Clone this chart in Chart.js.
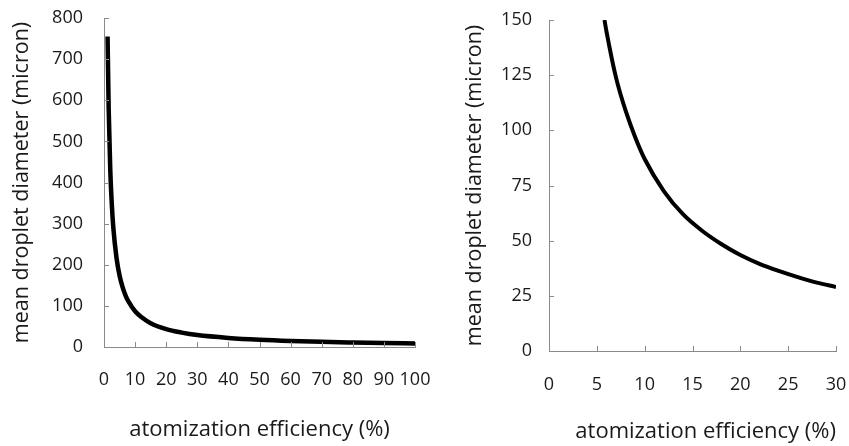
<!DOCTYPE html>
<html>
<head>
<meta charset="utf-8">
<script src="https://cdn.jsdelivr.net/npm/chart.js@4.4.1/dist/chart.umd.min.js"></script>
<style>
  html, body { margin: 0; padding: 0; background: #fff; }
  .panel { position: absolute; top: 0; height: 446px; }
  #leftBox { left: 0; width: 445px; }
  #rightBox { left: 430px; width: 419px; }
</style>
</head>
<body>
<div class="panel" id="leftBox"><canvas id="leftChart"></canvas></div>
<div class="panel" id="rightBox"><canvas id="rightChart"></canvas></div>
<script>
// values
const fullEfficiency = [1.15, 1.5, 2, 2.5, 3, 4, 5, 6, 7, 8, 10, 12, 15, 20, 25, 30, 40, 50, 60, 70, 80, 90, 100];
const fullDiameter = [755, 580, 435, 348, 290, 218, 174, 145, 124, 109, 87, 73, 58, 43.5, 35, 29, 22, 17.5, 14.5, 12.5, 11, 9.7, 8.7];

const zoomEfficiency = [5.8, 6, 7, 8, 9, 10, 12, 14, 16, 18, 20, 22, 24, 26, 28, 30];
const zoomDiameter = [150, 145, 124, 109, 97, 87, 72.5, 62, 54.5, 48.5, 43.5, 39.5, 36.3, 33.5, 31, 29];

const xTitle = 'atomization efficiency (%)';
const yTitle = 'mean droplet diameter (micron)';

const FONT = "'Open Sans', 'Noto Sans', sans-serif";
const TEXT = '#1a1a1a';
const AXIS = '#8a8a8a';

// small inward tick marks, like the original spreadsheet chart
const innerTicks = {
    id: 'innerTicks',
    afterDraw(chart) {
        const ctx = chart.ctx;
        const area = chart.chartArea;
        const xs = chart.scales.x;
        const ys = chart.scales.y;
        ctx.save();
        ctx.strokeStyle = AXIS;
        ctx.lineWidth = 1;
        ctx.beginPath();
        xs.ticks.forEach(t => {
            const px = Math.round(xs.getPixelForValue(t.value)) + 0.5;
            ctx.moveTo(px, area.bottom);
            ctx.lineTo(px, area.bottom - 5);
        });
        ys.ticks.forEach(t => {
            const py = Math.round(ys.getPixelForValue(t.value)) + 0.5;
            ctx.moveTo(area.left, py);
            ctx.lineTo(area.left + 5, py);
        });
        ctx.stroke();
        ctx.restore();
    }
};

function makeChart(id, xs, ys, opts) {
    const points = xs.map((x, i) => ({ x: x, y: ys[i] }));
    return new Chart(document.getElementById(id), {
        type: 'line',
        data: {
            datasets: [{
                data: points,
                borderColor: '#000',
                borderWidth: opts.lineWidth,
                pointRadius: 0,
                fill: false,
                cubicInterpolationMode: 'monotone'
            }]
        },
        options: {
            responsive: true,
            maintainAspectRatio: false,
            animation: false,
            layout: { padding: { top: opts.top, right: opts.right, left: 0, bottom: 0 } },
            plugins: { legend: { display: false }, tooltip: { enabled: false } },
            scales: {
                x: {
                    type: 'linear',
                    min: 0,
                    max: opts.xMax,
                    afterFit: s => {
                        s.height = opts.xHeight;
                        s.paddingLeft = 0;
                        s.paddingRight = 0;
                    },
                    grid: { drawOnChartArea: false, drawTicks: false },
                    border: { display: true, color: AXIS, width: 1 },
                    ticks: {
                        stepSize: opts.xStep,
                        padding: opts.xPad,
                        color: TEXT,
                        font: { family: FONT, size: 18 },
                        maxRotation: 0,
                        autoSkip: false
                    },
                    title: {
                        display: true,
                        text: xTitle,
                        align: opts.xAlign,
                        color: TEXT,
                        font: { family: FONT, size: 22 },
                        padding: { top: 0, bottom: opts.xTitlePad }
                    }
                },
                y: {
                    min: 0,
                    max: opts.yMax,
                    afterFit: s => {
                        s.width = opts.yWidth;
                        s.paddingTop = 0;
                        s.paddingBottom = 0;
                    },
                    grid: { drawOnChartArea: false, drawTicks: false },
                    border: { display: true, color: AXIS, width: 1 },
                    ticks: {
                        stepSize: opts.yStep,
                        padding: opts.yPad,
                        color: TEXT,
                        font: { family: FONT, size: 18 }
                    },
                    title: {
                        display: true,
                        text: yTitle,
                        color: TEXT,
                        font: { family: FONT, size: 21.5 },
                        padding: { top: opts.yTitlePad, bottom: 0 }
                    }
                }
            }
        },
        plugins: [innerTicks]
    });
}

makeChart('leftChart', fullEfficiency, fullDiameter, {
    xMax: 100, xStep: 10, yMax: 800, yStep: 100,
    top: 18, right: 30, xHeight: 99, yWidth: 104,
    xPad: 22, yPad: 21, xTitlePad: 3, yTitlePad: 9,
    xAlign: 'center', lineWidth: 4.5
});

makeChart('rightChart', zoomEfficiency, zoomDiameter, {
    xMax: 30, xStep: 5, yMax: 150, yStep: 25,
    top: 20, right: 13, xHeight: 95, yWidth: 119,
    xPad: 23, yPad: 17, xTitlePad: 1, yTitlePad: 32,
    xAlign: 'end', lineWidth: 4
});
</script>
</body>
</html>
